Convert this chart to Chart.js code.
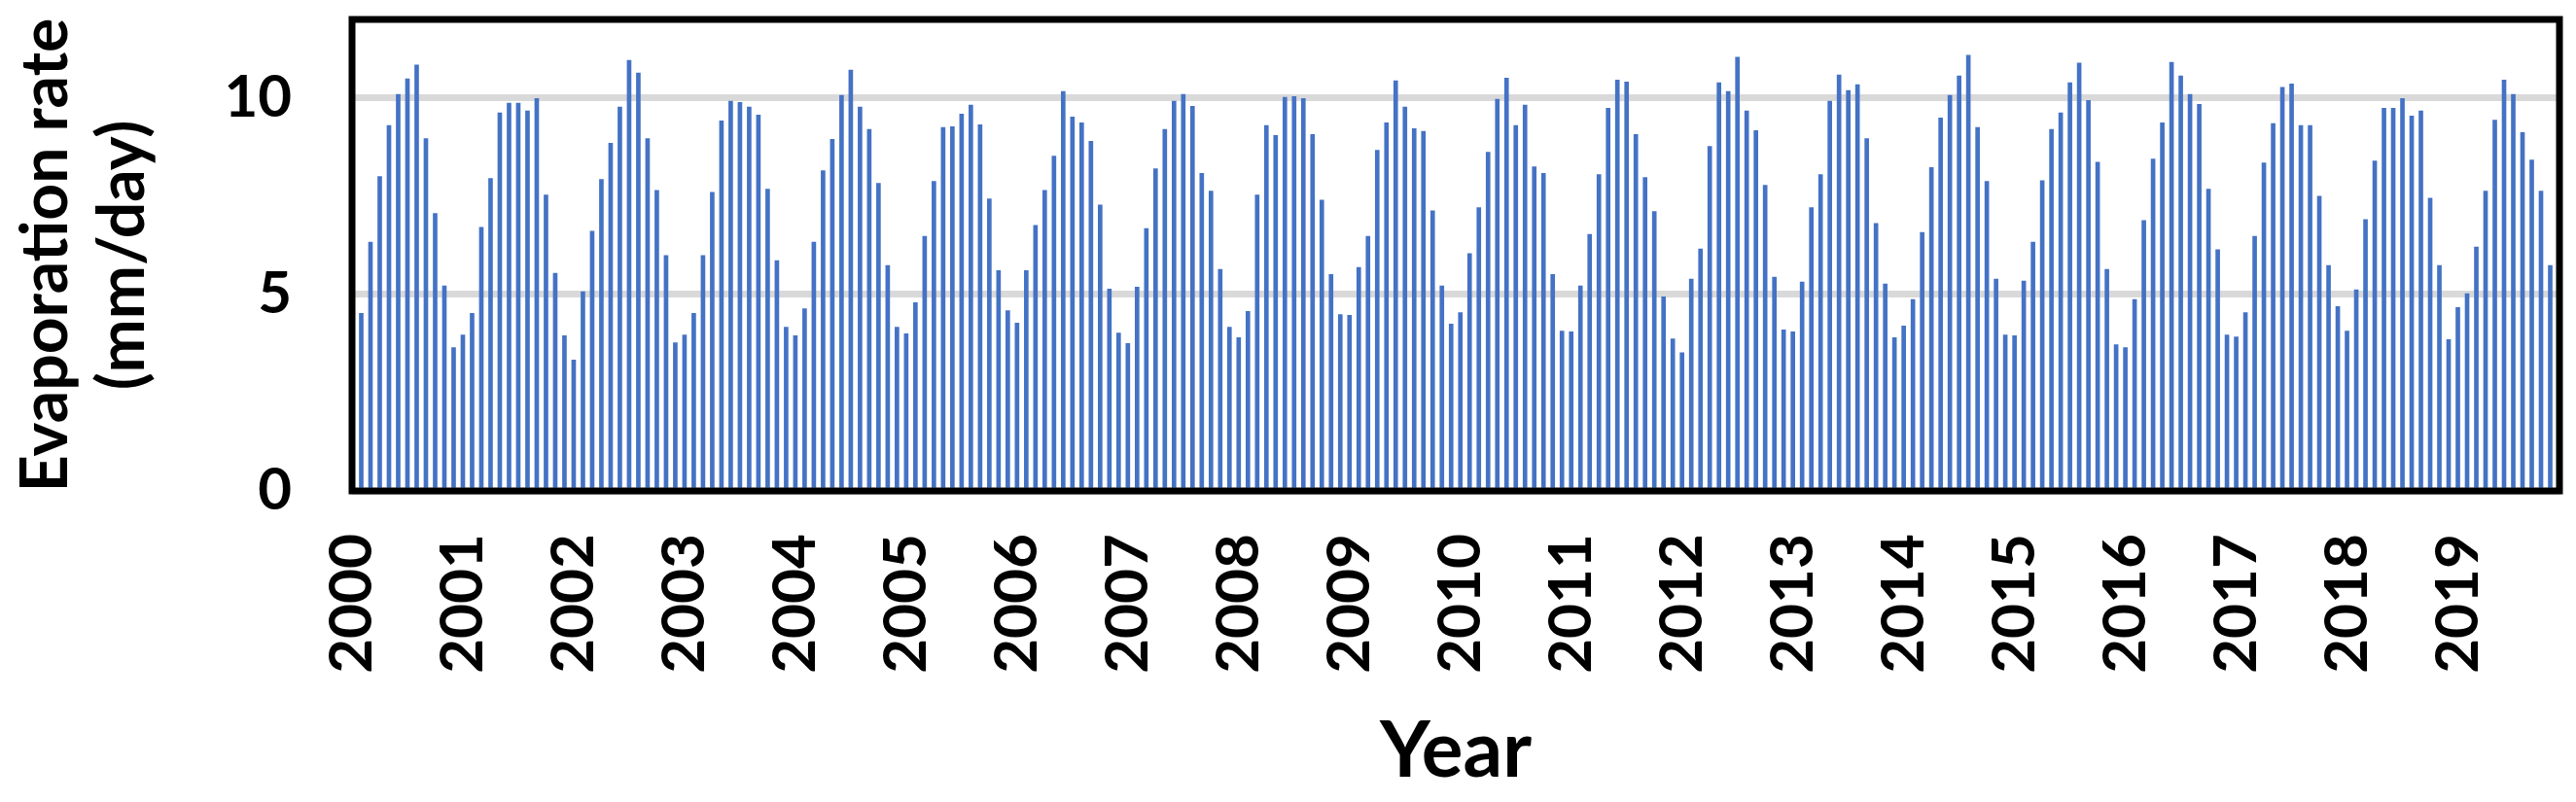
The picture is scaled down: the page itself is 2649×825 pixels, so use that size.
<!DOCTYPE html>
<html>
<head>
<meta charset="utf-8">
<script src="https://cdn.jsdelivr.net/npm/chart.js@4"></script>
<style>
  body { margin: 0; background: #fff; }
</style>
</head>
<body>
<canvas id="evapChart" width="2649" height="825"></canvas>
<script>
// -------- Data (monthly, Jan 2000 - Dec 2019) --------
const years = [2000, 2001, 2002, 2003, 2004, 2005, 2006, 2007, 2008, 2009,
               2010, 2011, 2012, 2013, 2014, 2015, 2016, 2017, 2018, 2019];

const evap2000s = [
    3.62, 4.52, 6.33, 8.00, 9.30, 10.09, 10.49, 10.84, 8.97, 7.06, 5.22, 3.65,
    3.97, 4.52, 6.71, 7.95, 9.62, 9.87, 9.87, 9.67, 9.99, 7.53, 5.54, 3.95,
    3.33, 5.07, 6.61, 7.93, 8.85, 9.77, 10.96, 10.64, 8.97, 7.65, 5.99, 3.77,
    3.97, 4.52, 5.99, 7.60, 9.42, 9.92, 9.89, 9.77, 9.57, 7.68, 5.86, 4.17,
    3.95, 4.64, 6.33, 8.15, 8.95, 10.07, 10.71, 9.77, 9.20, 7.83, 5.74, 4.17,
    4.00, 4.79, 6.48, 7.88, 9.25, 9.27, 9.59, 9.82, 9.32, 7.43, 5.61, 4.59,
    4.27, 5.61, 6.76, 7.65, 8.52, 10.17, 9.52, 9.37, 8.90, 7.28, 5.14, 4.02,
    3.75, 5.19, 6.68, 8.20, 9.20, 9.92, 10.09, 9.79, 8.08, 7.63, 5.64, 4.17,
    3.90, 4.57, 7.53, 9.30, 9.05, 10.02, 10.04, 9.99, 9.07, 7.40, 5.51, 4.49,
    4.47, 5.69, 6.48, 8.67, 9.37, 10.44, 9.77, 9.22, 9.15, 7.13, 5.22, 4.25
];

const evap2010s = [
    4.54, 6.04, 7.21, 8.62, 9.97, 10.51, 9.30, 9.82, 8.25, 8.08, 5.51, 4.07,
    4.05, 5.22, 6.53, 8.05, 9.74, 10.46, 10.41, 9.07, 7.98, 7.11, 4.94, 3.87,
    3.52, 5.39, 6.16, 8.77, 10.39, 10.17, 11.04, 9.67, 9.17, 7.78, 5.44, 4.10,
    4.05, 5.32, 7.21, 8.05, 9.92, 10.59, 10.19, 10.34, 8.97, 6.81, 5.27, 3.90,
    4.20, 4.87, 6.58, 8.23, 9.49, 10.07, 10.56, 11.09, 9.25, 7.88, 5.39, 3.97,
    3.95, 5.34, 6.33, 7.90, 9.20, 9.62, 10.39, 10.89, 9.94, 8.37, 5.64, 3.72,
    3.65, 4.87, 6.88, 8.45, 9.37, 10.91, 10.56, 10.09, 9.84, 7.68, 6.14, 3.97,
    3.92, 4.54, 6.48, 8.35, 9.35, 10.27, 10.36, 9.30, 9.30, 7.50, 5.74, 4.69,
    4.07, 5.12, 6.91, 8.40, 9.74, 9.74, 9.99, 9.54, 9.67, 7.45, 5.74, 3.85,
    4.67, 5.02, 6.21, 7.63, 9.44, 10.46, 10.09, 9.12, 8.42, 7.63, 5.74, 4.39
];

const evapRate = evap2000s.concat(evap2010s);

// one label per month, only January shows the year
const monthLabels = [];
years.forEach(y => {
    for (let m = 1; m <= 12; m++) monthLabels.push(m === 1 ? String(y) : "");
});

const yTicks = [0, 5, 10];

// -------- Frame around the plot area --------
const frame = {
    id: "frame",
    afterDraw(chart) {
        const { ctx, chartArea: a } = chart;
        ctx.save();
        ctx.strokeStyle = "#000";
        ctx.lineWidth = 7;
        ctx.strokeRect(a.left, a.top, a.right - a.left, a.bottom - a.top);
        ctx.restore();
    }
};

// pin the plot area to where it sits in the original figure
const PLOT = { left: 362, top: 20, right: 2632, bottom: 505 };
const pinArea = {
    id: "pinArea",
    afterLayout(chart) {
        const a = chart.chartArea;
        Object.assign(a, PLOT);
        a.width = PLOT.right - PLOT.left;
        a.height = PLOT.bottom - PLOT.top;
        const x = chart.scales.x, y = chart.scales.y;
        x.left = PLOT.left; x.right = PLOT.right; x.width = a.width;
        x.top = PLOT.bottom; x.bottom = 825; x.height = 825 - PLOT.bottom;
        x.configure();
        y.top = PLOT.top; y.bottom = PLOT.bottom; y.height = a.height;
        y.left = 0; y.right = PLOT.left; y.width = PLOT.left;
        y.configure();
    }
};

const boldFont = (size) => ({ family: "Lato, 'Open Sans', sans-serif", size: size, weight: "bold" });

new Chart(document.getElementById("evapChart").getContext("2d"), {
    type: "bar",
    data: {
        labels: monthLabels,
        datasets: [{
            label: "Evaporation rate",
            data: evapRate,
            backgroundColor: "#4472C4",
            barThickness: 4
        }]
    },
    options: {
        responsive: false,
        animation: false,
        layout: { padding: { top: 20, right: 17, left: 0, bottom: 0 } },
        plugins: { legend: { display: false }, tooltip: { enabled: false } },
        scales: {
            x: {
                offset: false,
                grid: { display: false, offset: false },
                border: { display: false },
                ticks: {
                    autoSkip: false,
                    maxRotation: 90,
                    minRotation: 90,
                    color: "#000",
                    font: boldFont(62),
                    padding: 36
                },
                title: {
                    display: true,
                    text: "Year",
                    color: "#000",
                    font: boldFont(80),
                    padding: { top: 0, bottom: 4 }
                },
                afterFit: (scale) => { scale.height = 320; }
            },
            y: {
                min: 0,
                max: 12,
                afterBuildTicks: (scale) => { scale.ticks = yTicks.map(v => ({ value: v })); },
                grid: { color: "#d9d9d9", lineWidth: 7, drawTicks: false },
                border: { display: false },
                ticks: {
                    color: "#000",
                    font: boldFont(60),
                    padding: 62
                },
                title: {
                    display: true,
                    text: ["Evaporation rate", "(mm/day)"],
                    color: "#000",
                    font: boldFont(66),
                    padding: { top: 8, bottom: 4 }
                },
                afterFit: (scale) => { scale.width = 362; }
            }
        }
    },
    plugins: [pinArea, frame]
});
</script>
</body>
</html>
